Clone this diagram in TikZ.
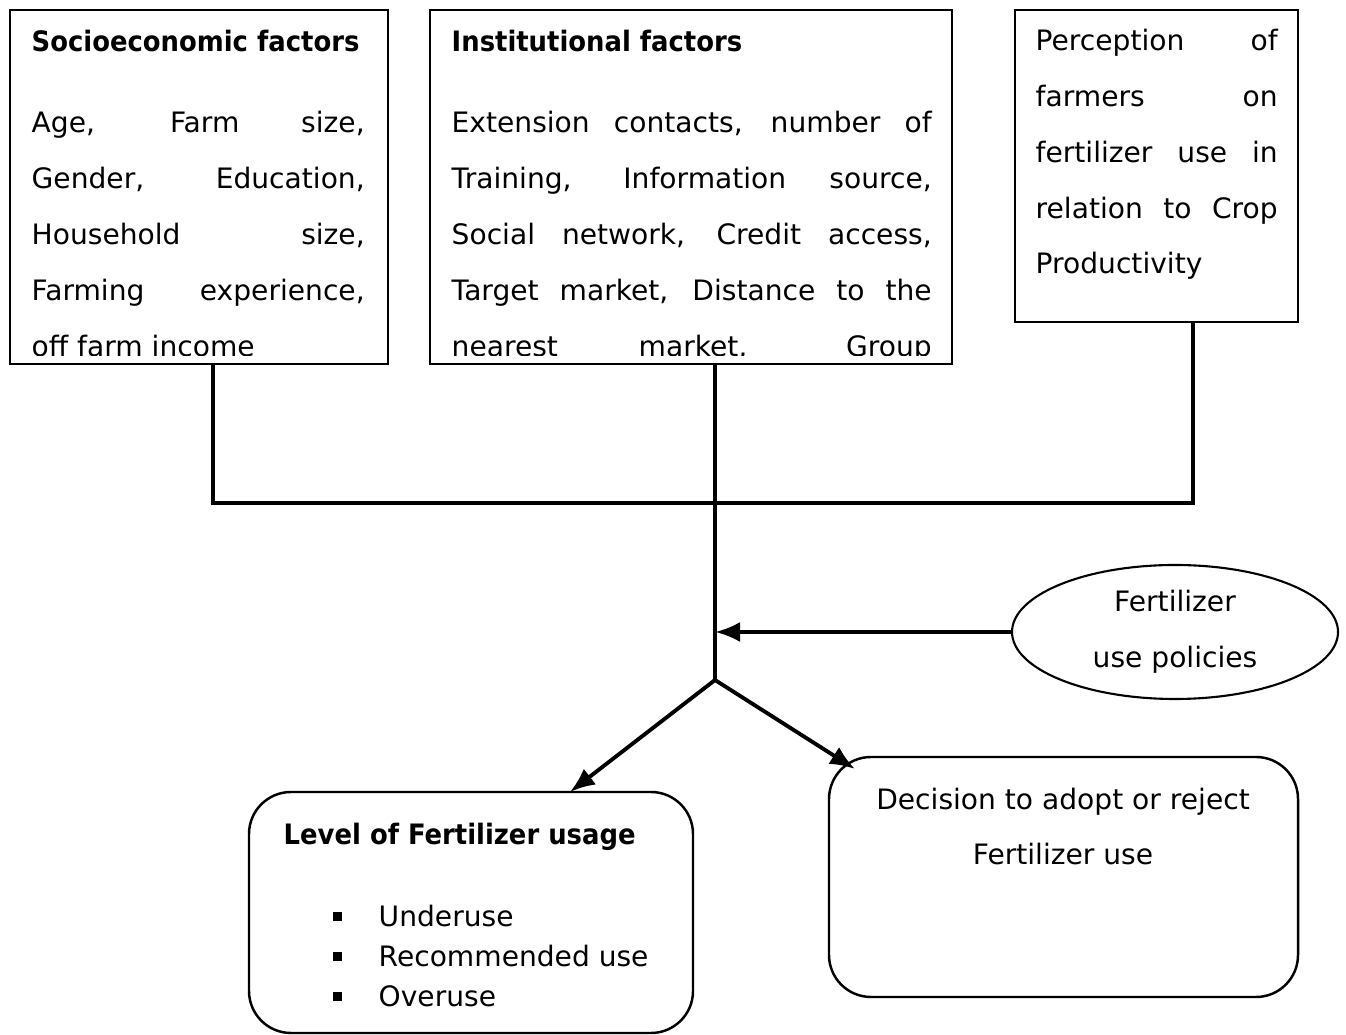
\documentclass[tikz,border=0pt]{standalone}
\usepackage{fontspec}
\setmainfont{DejaVu Sans}[BoldFeatures={FakeStretch=0.92}]
\usepackage{tikz}
\usetikzlibrary{arrows.meta,shapes.geometric}

\begin{document}
\begin{tikzpicture}[font=\fontsize{8pt}{15.9pt}\selectfont,
    factbox/.style={draw, line width=0.5pt, inner sep=0},
    roundbox/.style={draw, line width=0.7pt, rounded corners=0.42cm, inner sep=0},
    txt/.style={anchor=base west, inner sep=0},
    ctxt/.style={anchor=base, inner sep=0},
    link/.style={line width=1.1pt},
    >={Latex[length=2.5mm,width=2mm]}]

\useasboundingbox (0,0) rectangle (13.46,10.34);

% boxes
\node[factbox, minimum width=3.78cm, minimum height=3.54cm] (soc) at (1.99,8.47) {};
\node[factbox, minimum width=5.22cm, minimum height=3.54cm] (inst) at (6.91,8.47) {};
\node[factbox, minimum width=2.83cm, minimum height=3.12cm] (pers) at (11.565,8.68) {};
\node[ellipse, draw, line width=0.6pt, minimum width=3.26cm, minimum height=1.34cm,
      align=center, inner sep=0] (pol) at (11.75,4.02) {Fertilizer\\use policies};
\node[roundbox, minimum width=4.44cm, minimum height=2.41cm] (lvl) at (4.71,1.215) {};
\node[roundbox, minimum width=4.69cm, minimum height=2.40cm] (dec) at (10.635,1.57) {};

% socioeconomic
\begin{scope}
\clip ([yshift=0.09cm]soc.south west) rectangle (soc.north east);
\node[txt] (soc-t) at (0.31,9.82) {\textbf{Socioeconomic factors}};
\foreach \l [count=\i] in {{Age, Farm size,},{Gender, Education,},{Household size,},{Farming experience,}}
    \node[txt] (soc-\i) at (0.31,9.57-0.56*\i) {\makebox[3.33cm][s]{\l}};
\node[txt] (soc-5) at (0.31,6.77) {off farm income};
\end{scope}

% institutional
\begin{scope}
\clip ([yshift=0.09cm]inst.south west) rectangle (inst.north east);
\node[txt] (inst-t) at (4.51,9.82) {\textbf{Institutional factors}};
\foreach \l [count=\i] in {{Extension contacts, number of},{Training, Information source,},
        {Social network, Credit access,},{Target market, Distance to the},{nearest market, Group}}
    \node[txt] (inst-\i) at (4.51,9.57-0.56*\i) {\makebox[4.80cm][s]{\l}};
\end{scope}

% perception
\foreach \l [count=\i] in {{Perception of},{farmers on},{fertilizer use in},{relation to Crop}}
    \node[txt] (pers-\i) at (10.35,10.39-0.56*\i) {\makebox[2.42cm][s]{\l}};
\node[txt] (pers-5) at (10.35,7.60) {Productivity};

% level of usage
\node[txt] (lvl-t) at (2.83,1.89) {\textbf{Level of Fertilizer usage}};
\foreach \l [count=\i] in {Underuse,Recommended use,Overuse}
{
    \fill (3.33,1.525-0.4*\i) rectangle ++(0.09,0.09);
    \node[txt] (lvl-\i) at (3.78,1.47-0.4*\i) {\l};
}

% decision
\node[ctxt] (dec-1) at (10.63,2.24) {Decision to adopt or reject};
\node[ctxt] (dec-2) at (10.63,1.69) {Fertilizer use};

\coordinate (bl) at (2.13,5.31);
\coordinate (br) at (11.93,5.31);
\coordinate (split) at (7.15,3.54);
\coordinate (ltip) at (5.70,2.42);
\coordinate (dtip) at (8.55,2.65);

\draw[link] (soc.south -| bl) -- (bl) -- (br) -- (pers.south -| br);
\draw[link] (inst.south -| split) -- (split);
\draw[link,->] (pol.west) -- (pol.west -| split);
\draw[link,->] (split) -- (ltip);
\draw[link,->] (split) -- (dtip);

\end{tikzpicture}
\end{document}
